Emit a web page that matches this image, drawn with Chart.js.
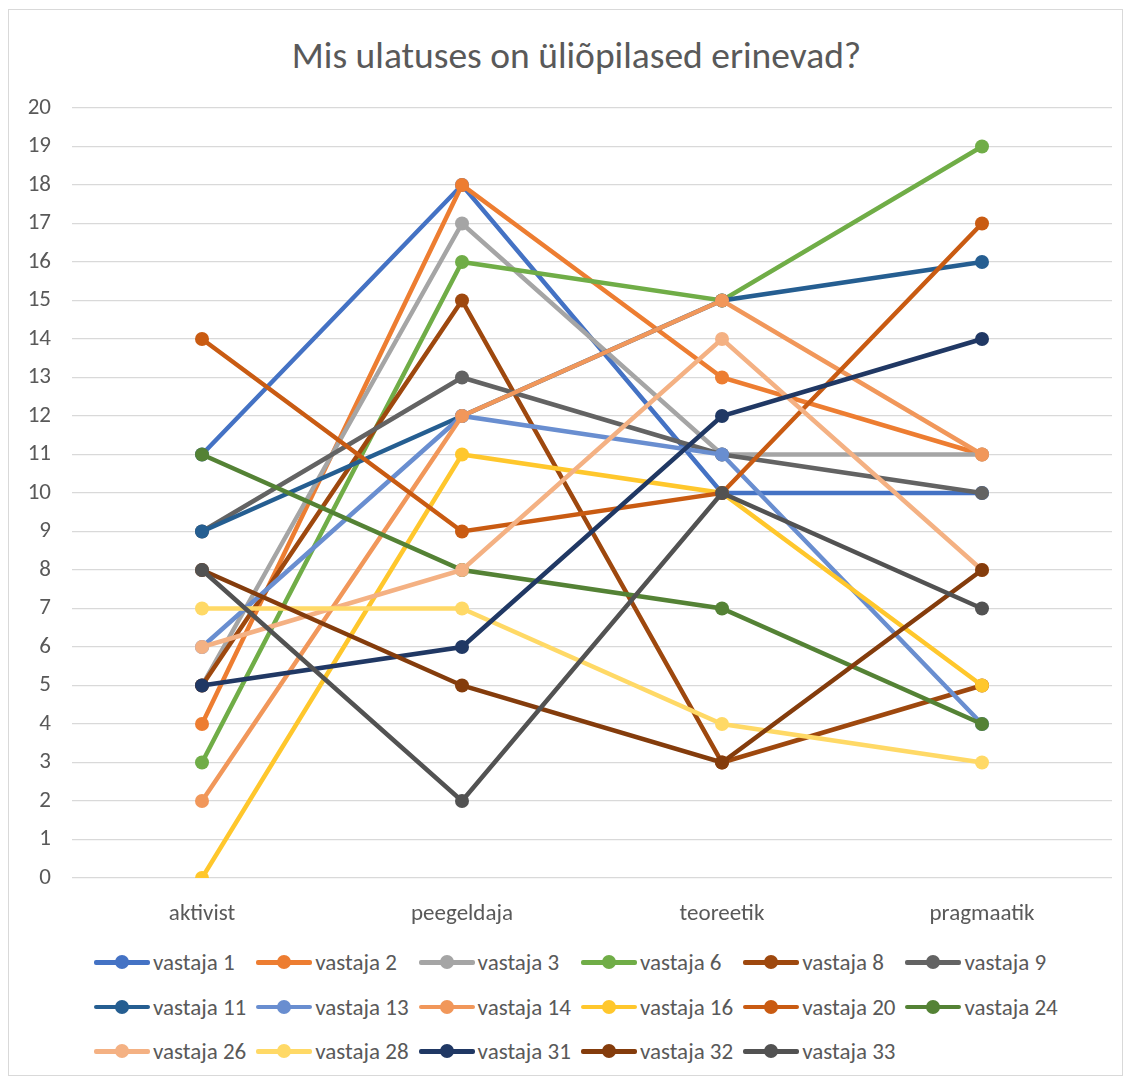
<!DOCTYPE html>
<html>
<head>
<meta charset="utf-8">
<script src="https://cdn.jsdelivr.net/npm/chart.js@4"></script>
<style>
  body { margin: 0; background: #fff; font-family: Carlito, Lato, sans-serif; color: #595959; }
  #frame { position: absolute; left: 8px; top: 9px; width: 1115px; height: 1067px; border: 1.5px solid #d9d9d9; box-sizing: border-box; }
  #title { position: absolute; left: 11px; top: 32px; width: 1131px; text-align: center; font-size: 37.5px; line-height: 46px; white-space: nowrap; }
  #chartBox { position: absolute; left: 0; top: 0; width: 1131px; height: 930px; }
  #legend { position: absolute; left: 94px; top: 940px; width: 1030px; }
  .row { display: flex; height: 44.5px; align-items: center; white-space: nowrap; }
  .item { display: flex; align-items: center; flex: none; width: 162.3px; font-size: 23px; white-space: nowrap; }
  .swatch { position: relative; width: 56px; height: 20px; margin-right: 3px; flex: none; }
  .swatch .ln { position: absolute; left: 0; right: 0; top: 8px; height: 4.5px; border-radius: 2px; }
  .swatch .dot { position: absolute; left: 21px; top: 3px; width: 14px; height: 14px; border-radius: 50%; }
</style>
</head>
<body>
<div id="frame"></div>
<div id="title">Mis ulatuses on üliõpilased erinevad?</div>
<div id="chartBox"><canvas id="chart" width="1131" height="930"></canvas></div>
<div id="legend"></div>
<script>
const categories = ['aktivist', 'peegeldaja', 'teoreetik', 'pragmaatik'];

const vastaja1 = [11, 18, 10, 10];
const vastaja2 = [4, 18, 13, 11];
const vastaja3 = [5, 17, 11, 11];
const vastaja6 = [3, 16, 15, 19];
const vastaja8 = [5, 15, 3, 5];
const vastaja9 = [9, 13, 11, 10];
const vastaja11 = [9, 12, 15, 16];
const vastaja13 = [6, 12, 11, 4];
const vastaja14 = [2, 12, 15, 11];
const vastaja16 = [0, 11, 10, 5];
const vastaja20 = [14, 9, 10, 17];
const vastaja24 = [11, 8, 7, 4];
const vastaja26 = [6, 8, 14, 8];
const vastaja28 = [7, 7, 4, 3];
const vastaja31 = [5, 6, 12, 14];
const vastaja32 = [8, 5, 3, 8];
const vastaja33 = [8, 2, 10, 7];

const seriesNames = ['vastaja 1', 'vastaja 2', 'vastaja 3', 'vastaja 6', 'vastaja 8', 'vastaja 9',
    'vastaja 11', 'vastaja 13', 'vastaja 14', 'vastaja 16', 'vastaja 20', 'vastaja 24',
    'vastaja 26', 'vastaja 28', 'vastaja 31', 'vastaja 32', 'vastaja 33'];
const seriesValues = [vastaja1, vastaja2, vastaja3, vastaja6, vastaja8, vastaja9,
    vastaja11, vastaja13, vastaja14, vastaja16, vastaja20, vastaja24,
    vastaja26, vastaja28, vastaja31, vastaja32, vastaja33];
const seriesColors = ['#4472C4', '#ED7D31', '#A5A5A5', '#70AD47', '#9E480E', '#636363',
    '#255E91', '#698ED0', '#F1975A', '#FFC72C', '#C95B12', '#548235',
    '#F4B183', '#FFD966', '#203864', '#843C0C', '#525252'];

const yMin = 0;
const yMax = 20;

const textColor = '#595959';
const gridColor = '#d9d9d9';
const fontFamily = 'Carlito, Lato, sans-serif';

// later series go on top, like in the original
const datasets = seriesNames.map((name, i) => ({
    label: name,
    data: seriesValues[i],
    borderColor: seriesColors[i],
    backgroundColor: seriesColors[i],
    borderWidth: 4.5,
    pointRadius: 7,
    pointHoverRadius: 7,
    pointBorderWidth: 0,
    tension: 0,
    order: seriesNames.length - i
}));

new Chart(document.getElementById('chart'), {
    type: 'line',
    data: { labels: categories, datasets: datasets },
    options: {
        responsive: false,
        devicePixelRatio: 1,
        animation: false,
        layout: { padding: { top: 108, right: 19, left: 0, bottom: 0 } },
        plugins: {
            legend: { display: false },
            title: { display: false },
            tooltip: { enabled: false }
        },
        scales: {
            x: {
                offset: true,
                grid: { display: false },
                border: { display: false },
                ticks: { color: textColor, font: { family: fontFamily, size: 23 }, padding: 14 },
                afterFit: s => { s.height = 52; }
            },
            y: {
                min: yMin,
                max: yMax,
                grid: { color: gridColor, lineWidth: 1.3, drawTicks: false },
                border: { display: false },
                ticks: { stepSize: 1, color: textColor, font: { family: fontFamily, size: 23 }, padding: 21 },
                afterFit: s => { s.width = 72; }
            }
        }
    }
});

// legend in rows of six, like the original
const legend = document.getElementById('legend');
for (let r = 0; r < seriesNames.length; r += 6) {
    const row = document.createElement('div');
    row.className = 'row';
    seriesNames.slice(r, r + 6).forEach((name, k) => {
        const c = seriesColors[r + k];
        const item = document.createElement('div');
        item.className = 'item';
        item.innerHTML = `<span class="swatch"><span class="ln" style="background:${c}"></span><span class="dot" style="background:${c}"></span></span><span>${name}</span>`;
        row.appendChild(item);
    });
    legend.appendChild(row);
}
</script>
</body>
</html>
